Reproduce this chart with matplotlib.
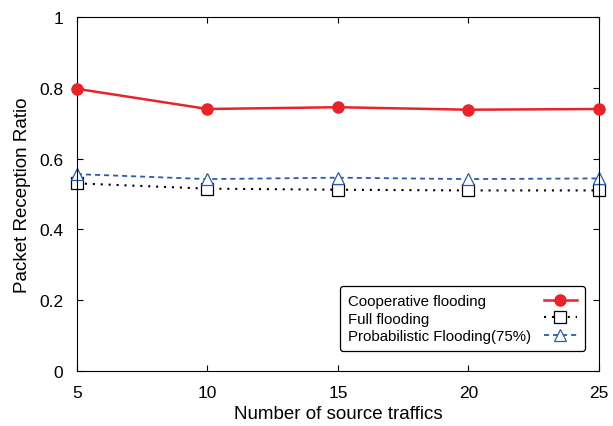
import numpy as np
import matplotlib.pyplot as plt

plt.rcParams['font.family'] = ['Liberation Sans', 'DejaVu Sans']

# Datos
traffics = [5, 10, 15, 20, 25]
coop = [0.797, 0.740, 0.745, 0.738, 0.740]
full = [0.530, 0.515, 0.512, 0.510, 0.510]
prob = [0.556, 0.542, 0.546, 0.542, 0.544]

fig = plt.figure(figsize=(6.13, 4.27), dpi=100)
ax = fig.add_axes([0.1256, 0.1288, 0.8514, 0.8292])

ax.plot(traffics, coop, color="#e8242a", lw=1.8, marker="o", ms=8,
        label="Cooperative flooding", clip_on=False, zorder=3)
ax.plot(traffics, full, color="black", lw=1.5, ls=(0, (1, 2.8)), marker="s", ms=8,
        mfc="white", mec="black", mew=0.9, label="Full flooding", clip_on=False)
ax.plot(traffics, prob, color="#2a5caa", lw=1.3, ls=(0, (2.8, 2.2)), marker="^", ms=8,
        mfc="white", mec="#2a5caa", mew=0.9, label="Probabilistic Flooding(75%)",
        clip_on=False)

ax.set_xlim(5, 25)
ax.set_ylim(0, 1)
ax.set_xticks([5, 10, 15, 20, 25])
ax.set_yticks([0, 0.2, 0.4, 0.6, 0.8, 1])
ax.set_yticklabels(["0", "0.2", "0.4", "0.6", "0.8", "1"])
ax.tick_params(direction="in", top=True, right=True, labelsize=12.5, length=4)
ax.tick_params(axis="y", pad=10)
ax.tick_params(axis="x", pad=10)
ax.set_xlabel("Number of source traffics", fontsize=13.5, labelpad=4)
ax.set_ylabel("Packet Reception Ratio", fontsize=13.5, labelpad=6)

leg = ax.legend(loc="lower right", markerfirst=False, fontsize=10.8, fancybox=True,
                edgecolor="black", framealpha=1, handlelength=2.2,
                labelspacing=0.22, borderpad=0.55, borderaxespad=0,
                bbox_to_anchor=(0.973, 0.056))
leg.get_frame().set_linewidth(0.9)

# texto alineado a la izquierda, simbolo a la derecha
fig.canvas.draw()
renderer = fig.canvas.get_renderer()
col = leg._legend_handle_box.get_children()[0]
rows = col.get_children()
wmax = max(r.get_bbox(renderer).width for r in rows)
for r in rows:
    r.mode = "expand"
    r.width = wmax

plt.savefig("out.png")
